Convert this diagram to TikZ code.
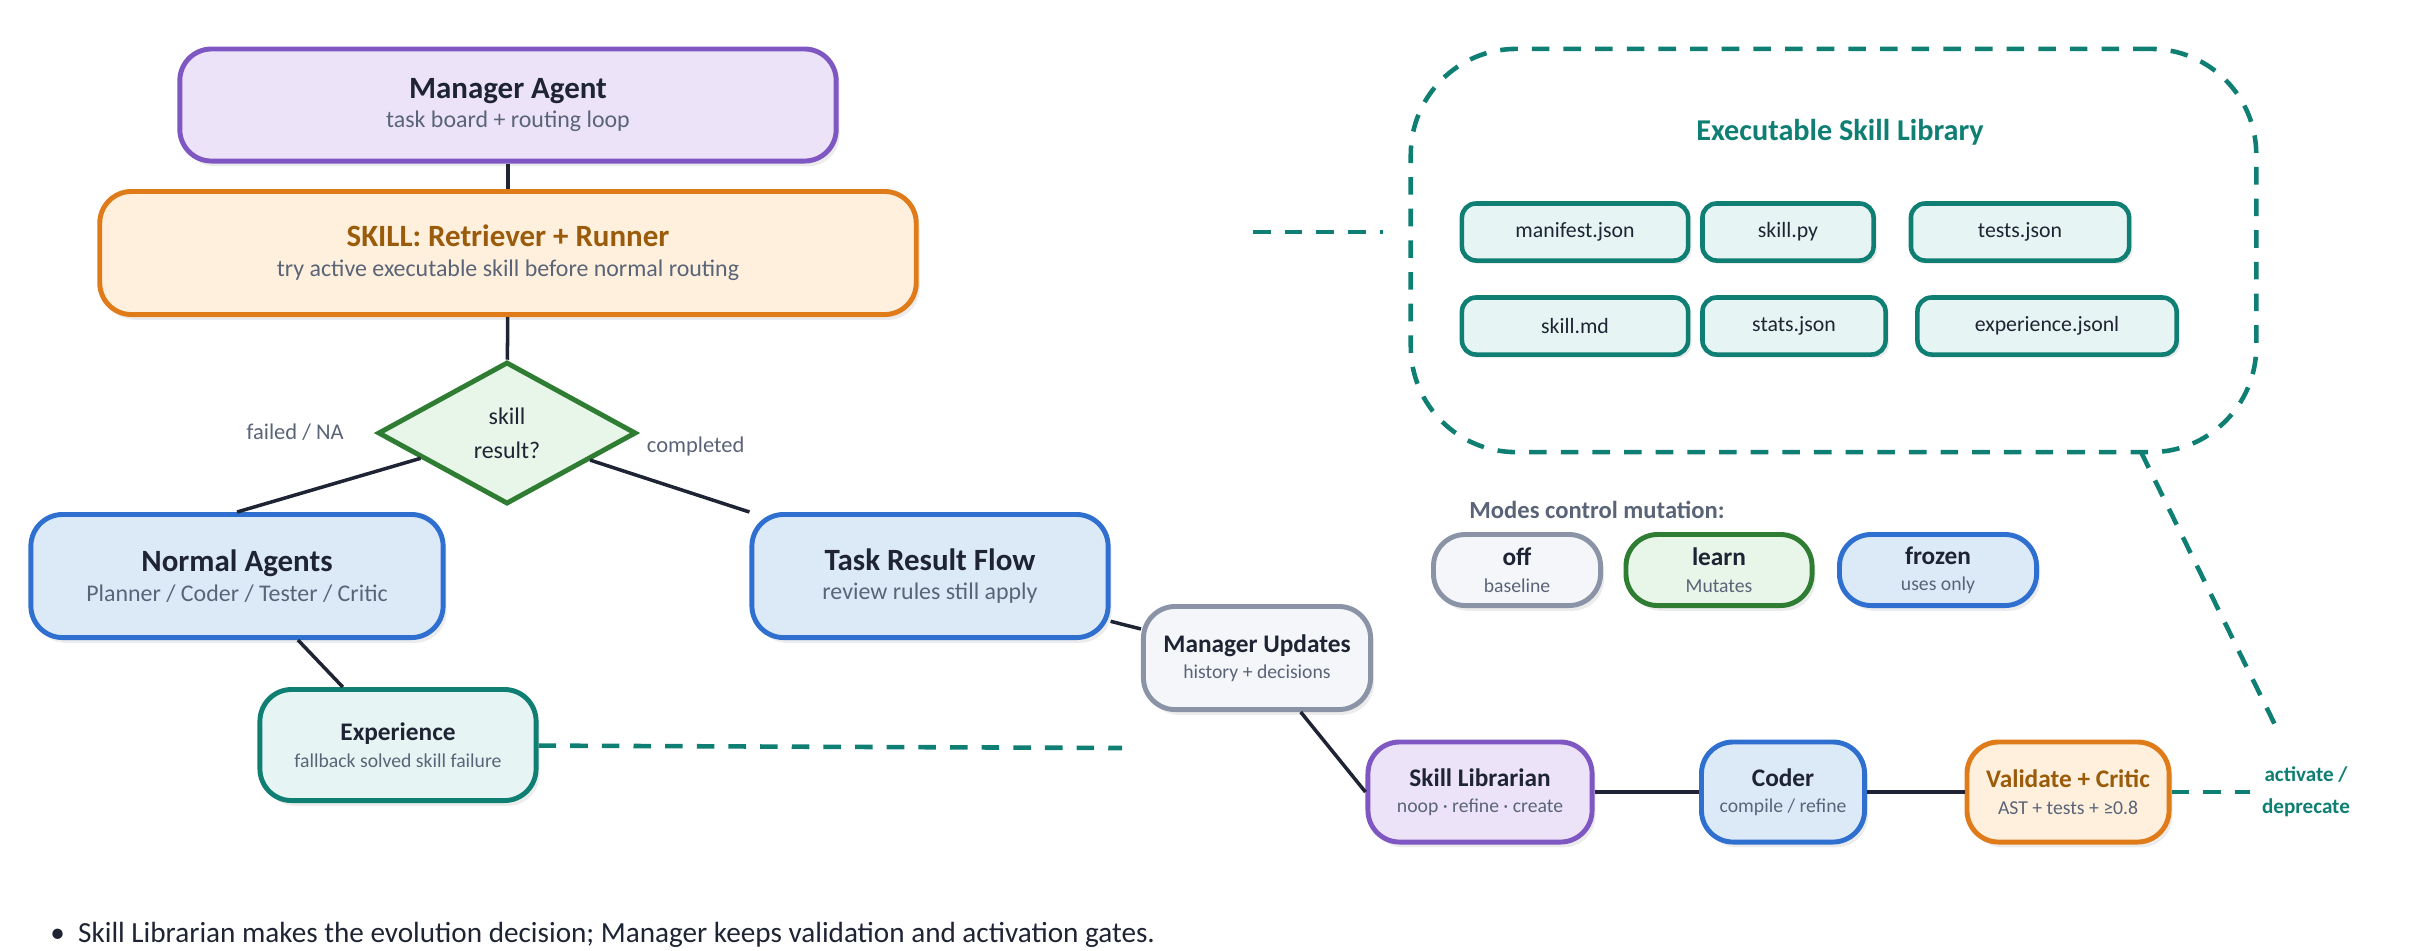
\documentclass[tikz,border=0pt]{standalone}
\usepackage{fontspec}
\setmainfont{Carlito}
\usetikzlibrary{shapes.geometric,shadows}
\definecolor{purpleline}{HTML}{7E57C2}
\definecolor{purplefill}{HTML}{EDE3F8}
\definecolor{orangeline}{HTML}{E07B1A}
\definecolor{orangefill}{HTML}{FEF0DC}
\definecolor{orangetext}{HTML}{9A5B0A}
\definecolor{blueline}{HTML}{2F6FD0}
\definecolor{bluefill}{HTML}{DCEAF8}
\definecolor{tealline}{HTML}{0F7F74}
\definecolor{tealfill}{HTML}{E6F5F3}
\definecolor{greenline}{HTML}{2E7D32}
\definecolor{greenfill}{HTML}{E8F5E9}
\definecolor{grayline}{HTML}{8A94A6}
\definecolor{grayfill}{HTML}{F4F6FA}
\definecolor{darktext}{HTML}{1E2433}
\definecolor{subtext}{HTML}{5A6478}
\definecolor{edgecol}{HTML}{1E2433}
\newcommand{\bigtitle}[2]{{\fontsize{8.8}{11}\selectfont\bfseries\color{#1}#2}}
\newcommand{\smalltitle}[2]{{\fontsize{7.2}{9}\selectfont\bfseries\color{#1}#2}}
\newcommand{\bigsub}[1]{{\fontsize{6.8}{8}\selectfont\color{subtext}#1}}
\newcommand{\smallsub}[1]{{\fontsize{5.6}{7}\selectfont\color{subtext}#1}}
\tikzset{
  box/.style={rounded corners=9pt, line width=1.4pt, align=center, inner sep=0pt,
    font=\fontsize{6}{8.5}\selectfont,
    drop shadow={opacity=0.15, shadow xshift=1pt, shadow yshift=-1.5pt}},
  smallbox/.style={box, font=\fontsize{5}{7.5}\selectfont},
  file/.style={rounded corners=4pt, line width=1.3pt, draw=tealline, fill=tealfill,
    minimum height=0.57cm, font=\fontsize{6.2}{7}\selectfont, text=darktext,
    drop shadow={opacity=0.15, shadow xshift=1pt, shadow yshift=-1pt}},
  link/.style={line width=1pt, draw=edgecol},
  tealdash/.style={line width=1.3pt, draw=tealline, dash pattern=on 5pt off 4pt},
  edgelabel/.style={font=\fontsize{6.4}{8}\selectfont, text=subtext},
}
\begin{document}
\begin{tikzpicture}[x=0.01cm, y=-0.01cm]
\useasboundingbox (0,0) rectangle (2410,950);
% left flow
\node (manager) at (508,105) [box, draw=purpleline, fill=purplefill, minimum width=6.56cm, minimum height=1.12cm]
  {\bigtitle{darktext}{Manager Agent}\\\bigsub{task board + routing loop}};
\node (skill) at (508,253) [box, draw=orangeline, fill=orangefill, minimum width=8.16cm, minimum height=1.23cm]
  {\bigtitle{orangetext}{SKILL: Retriever + Runner}\\\bigsub{try active executable skill before normal routing}};
\node (result) at (507,433) [diamond, draw=greenline, fill=greenfill, line width=1.4pt, aspect=1.8, minimum width=2.58cm, minimum height=1.42cm, inner sep=0pt, align=center, font=\fontsize{6.8}{9.6}\selectfont, text=darktext]
  {skill\\result?};
\node (normal) at (237,576) [box, draw=blueline, fill=bluefill, minimum width=4.12cm, minimum height=1.23cm]
  {\bigtitle{darktext}{Normal Agents}\\\bigsub{Planner / Coder / Tester / Critic}};
\node (taskflow) at (930,576) [box, draw=blueline, fill=bluefill, minimum width=3.56cm, minimum height=1.23cm]
  {\bigtitle{darktext}{Task Result Flow}\\\bigsub{review rules still apply}};
\node (experience) at (398,745) [smallbox, draw=tealline, fill=tealfill, minimum width=2.76cm, minimum height=1.11cm]
  {\smalltitle{darktext}{Experience}\\\smallsub{fallback solved skill failure}};
\node (updates) at (1257,658) [smallbox, draw=grayline, fill=grayfill, minimum width=2.27cm, minimum height=1.03cm]
  {\smalltitle{darktext}{Manager Updates}\\\smallsub{history + decisions}};
% lower pipeline
\node (librarian) at (1480,792) [smallbox, draw=purpleline, fill=purplefill, minimum width=2.24cm, minimum height=1cm]
  {\smalltitle{darktext}{Skill Librarian}\\\smallsub{noop · refine · create}};
\node (coder) at (1783,792) [smallbox, draw=blueline, fill=bluefill, minimum width=1.63cm, minimum height=1cm]
  {\smalltitle{darktext}{Coder}\\\smallsub{compile / refine}};
\node (validate) at (2068,792) [smallbox, draw=orangeline, fill=orangefill, minimum width=2.02cm, minimum height=1cm]
  {\smalltitle{orangetext}{Validate + Critic}\\\smallsub{AST + tests + ≥0.8}};
\node (activate) at (2306,792) [align=center, font=\fontsize{6}{9}\selectfont\bfseries, text=tealline] {activate /\\deprecate};
% library
\node (library) at (1833.5,250.5) [draw=tealline, line width=1.3pt, dash pattern=on 5pt off 4pt, rounded corners=30pt, minimum width=8.45cm, minimum height=4.03cm] {};
\node (libtitle) at (1840,132) [font=\fontsize{8.6}{10}\selectfont\bfseries, text=tealline] {Executable Skill Library};
\node (f1) at (1575,232) [file, minimum width=2.26cm] {manifest.json};
\node (f2) at (1788,232) [file, minimum width=1.71cm] {skill.py};
\node (f3) at (2020,232) [file, minimum width=2.18cm] {tests.json};
\node (f4) at (1575,326) [file, minimum width=2.26cm] {skill.md};
\node (f5) at (1794,326) [file, minimum width=1.83cm] {stats.json};
\node (f6) at (2047,326) [file, minimum width=2.59cm] {experience.jsonl};
\coordinate (libin) at (1383,232);
\coordinate (libout) at (1253,232);
\coordinate (libfoot) at (2141,452);
\coordinate (actend) at (2280,735);
\coordinate (expend) at (1122,748);
% modes
\node (modes) at (1457,510) [anchor=west, font=\fontsize{7}{8}\selectfont\bfseries, text=subtext] {Modes control mutation:};
\node (off) at (1517,570) [smallbox, draw=grayline, fill=grayfill, minimum width=1.67cm, minimum height=0.71cm]
  {\smalltitle{darktext}{off}\\\smallsub{baseline}};
\node (learn) at (1719,570) [smallbox, draw=greenline, fill=greenfill, minimum width=1.86cm, minimum height=0.71cm]
  {\smalltitle{darktext}{learn}\\\smallsub{Mutates}};
\node (frozen) at (1938,570) [smallbox, draw=blueline, fill=bluefill, minimum width=1.97cm, minimum height=0.71cm]
  {\smalltitle{darktext}{frozen}\\\smallsub{uses only}};
% connectors
\draw [link] (manager) -- (skill);
\draw [link] (skill) -- (result);
\draw [link] (result) -- (normal.north) node [pos=0.25, above left=5pt, edgelabel] {failed / NA};
\draw [link] (result) -- (taskflow.north west) node [pos=0.25, above right=1pt, edgelabel] {completed};
\draw [link] (normal) -- (experience);
\draw [link] (taskflow) -- (updates);
\draw [link] (updates) -- (librarian.west);
\draw [link] (librarian) -- (coder);
\draw [link] (coder) -- (validate);
\draw [tealdash] (experience) -- (expend);
\draw [tealdash] (libout) -- (libin);
\draw [tealdash] (validate) -- (activate);
\draw [tealdash] (libfoot) -- (actend);
% note
\node (note) at (38,935) [anchor=west, font=\fontsize{8.3}{9}\selectfont, text=darktext] {\textbullet\ \ Skill Librarian makes the evolution decision; Manager keeps validation and activation gates.};
\end{tikzpicture}
\end{document}
